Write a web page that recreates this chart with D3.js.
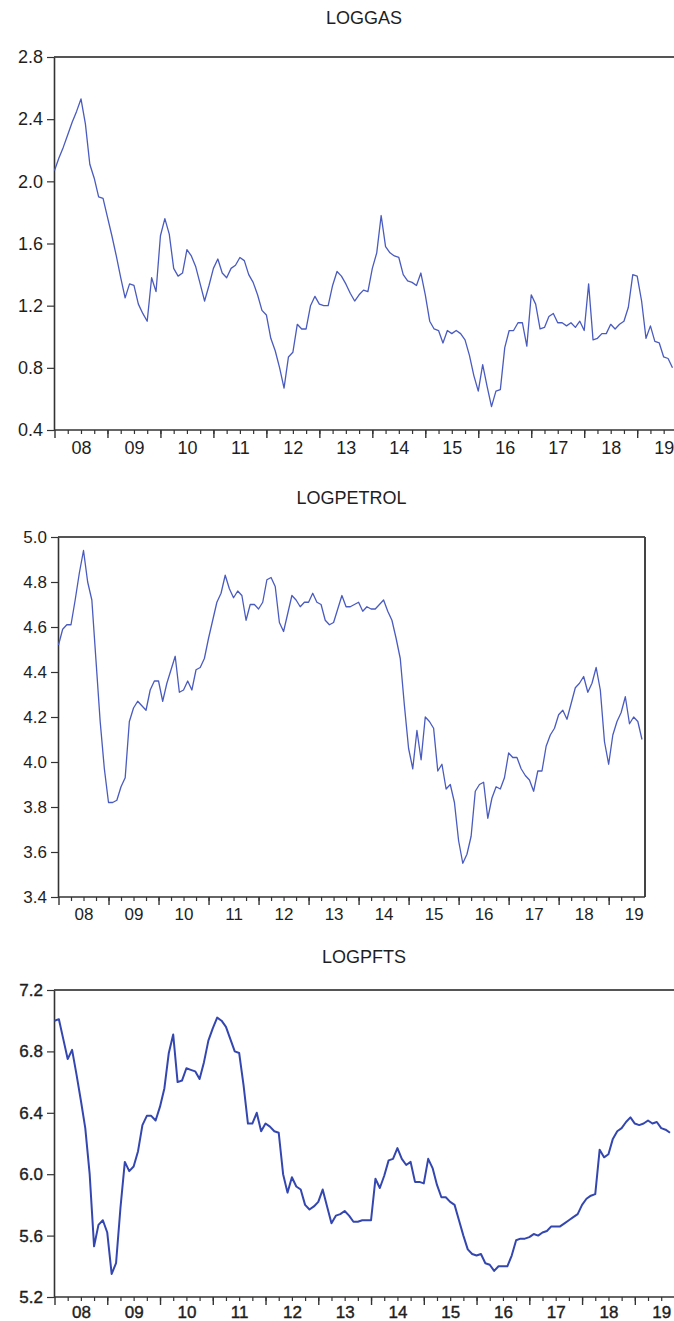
<!DOCTYPE html>
<html lang="en">
<head>
<meta charset="UTF-8">
<title>LOGGAS / LOGPETROL / LOGPFTS</title>
<script src="https://d3js.org/d3.v7.min.js"></script>
<style>
    body { margin: 0; background: #fff; }
    svg { display: block; }
    text { font-family: "Liberation Sans", Arial, sans-serif; fill: #1e1e1e; }
    .title { font-size: 18px; }
    .tick text { font-size: 17px; fill: #1e1e1e; }
</style>
</head>
<body>
<svg width="674" height="1321"></svg>

<script>
    // monthly observations, 2008M01 .. 2019M09
    const yearLabels = ["08","09","10","11","12","13","14","15","16","17","18","19"];

    const logGas = [
        2.07, 2.15, 2.22, 2.30, 2.38, 2.45, 2.53, 2.37, 2.11, 2.02, 1.90, 1.89,
        1.77, 1.65, 1.52, 1.38, 1.25, 1.34, 1.33, 1.21, 1.15, 1.10, 1.38, 1.29,
        1.65, 1.76, 1.66, 1.44, 1.39, 1.41, 1.56, 1.52, 1.45, 1.34, 1.23, 1.33,
        1.44, 1.50, 1.41, 1.38, 1.44, 1.46, 1.51, 1.49, 1.40, 1.35, 1.27, 1.17,
        1.14, 0.99, 0.91, 0.80, 0.67, 0.87, 0.90, 1.08, 1.05, 1.05, 1.20, 1.26,
        1.21, 1.20, 1.20, 1.33, 1.42, 1.39, 1.34, 1.28, 1.23, 1.27, 1.30, 1.29,
        1.44, 1.54, 1.78, 1.58, 1.54, 1.52, 1.51, 1.40, 1.36, 1.35, 1.33, 1.41,
        1.27, 1.10, 1.05, 1.04, 0.96, 1.04, 1.02, 1.04, 1.02, 0.98, 0.88, 0.75,
        0.65, 0.82, 0.68, 0.55, 0.65, 0.66, 0.93, 1.04, 1.04, 1.09, 1.09, 0.94,
        1.27, 1.21, 1.05, 1.06, 1.13, 1.15, 1.09, 1.09, 1.07, 1.09, 1.06, 1.10,
        1.04, 1.34, 0.98, 0.99, 1.02, 1.02, 1.08, 1.05, 1.08, 1.10, 1.19, 1.40,
        1.39, 1.23, 0.99, 1.07, 0.97, 0.96, 0.87, 0.86, 0.80
    ];

    const logPetrol = [
        4.52, 4.59, 4.61, 4.61, 4.72, 4.84, 4.94, 4.80, 4.72, 4.45, 4.18, 3.97,
        3.82, 3.82, 3.83, 3.89, 3.93, 4.18, 4.24, 4.27, 4.25, 4.23, 4.32, 4.36,
        4.36, 4.27, 4.35, 4.41, 4.47, 4.31, 4.32, 4.36, 4.32, 4.41, 4.42, 4.46,
        4.55, 4.63, 4.71, 4.75, 4.83, 4.77, 4.73, 4.76, 4.74, 4.63, 4.70, 4.70,
        4.68, 4.71, 4.81, 4.82, 4.78, 4.62, 4.58, 4.66, 4.74, 4.72, 4.69, 4.71,
        4.71, 4.75, 4.71, 4.70, 4.63, 4.61, 4.62, 4.68, 4.74, 4.69, 4.69, 4.70,
        4.71, 4.67, 4.69, 4.68, 4.68, 4.70, 4.72, 4.67, 4.63, 4.55, 4.46, 4.25,
        4.06, 3.97, 4.14, 4.01, 4.20, 4.18, 4.15, 3.96, 3.99, 3.88, 3.90, 3.82,
        3.65, 3.55, 3.59, 3.67, 3.87, 3.90, 3.91, 3.75, 3.84, 3.89, 3.88, 3.93,
        4.04, 4.02, 4.02, 3.97, 3.94, 3.92, 3.87, 3.96, 3.96, 4.07, 4.12, 4.15,
        4.21, 4.23, 4.19, 4.26, 4.33, 4.35, 4.38, 4.31, 4.35, 4.42, 4.32, 4.09,
        3.99, 4.12, 4.18, 4.22, 4.29, 4.17, 4.20, 4.18, 4.10
    ];

    const logPfts = [
        7.00, 7.01, 6.88, 6.75, 6.81, 6.65, 6.48, 6.30, 6.00, 5.53, 5.67, 5.70,
        5.62, 5.35, 5.42, 5.78, 6.08, 6.02, 6.05, 6.15, 6.32, 6.38, 6.38, 6.35,
        6.44, 6.56, 6.79, 6.91, 6.60, 6.61, 6.69, 6.68, 6.67, 6.62, 6.73, 6.87,
        6.95, 7.02, 7.00, 6.96, 6.88, 6.80, 6.79, 6.58, 6.33, 6.33, 6.40, 6.28,
        6.33, 6.31, 6.28, 6.27, 6.00, 5.88, 5.98, 5.92, 5.90, 5.80, 5.77, 5.79,
        5.82, 5.90, 5.79, 5.68, 5.73, 5.74, 5.76, 5.73, 5.69, 5.69, 5.70, 5.70,
        5.70, 5.97, 5.91, 5.99, 6.09, 6.10, 6.17, 6.10, 6.06, 6.08, 5.95, 5.95,
        5.94, 6.10, 6.04, 5.93, 5.85, 5.85, 5.82, 5.80, 5.70, 5.60, 5.51, 5.48,
        5.47, 5.48, 5.42, 5.41, 5.37, 5.40, 5.40, 5.40, 5.47, 5.57, 5.58, 5.58,
        5.59, 5.61, 5.60, 5.62, 5.63, 5.66, 5.66, 5.66, 5.68, 5.70, 5.72, 5.74,
        5.80, 5.84, 5.86, 5.87, 6.16, 6.11, 6.13, 6.23, 6.28, 6.30, 6.34, 6.37,
        6.33, 6.32, 6.33, 6.35, 6.33, 6.34, 6.30, 6.29, 6.27
    ];

    const gasTicks = [0.4, 0.8, 1.2, 1.6, 2.0, 2.4, 2.8];
    const petrolTicks = [3.4, 3.6, 3.8, 4.0, 4.2, 4.4, 4.6, 4.8, 5.0];
    const pftsTicks = [5.2, 5.6, 6.0, 6.4, 6.8, 7.2];

    let svg = d3.select("svg");

    function drawPanel(p)
    {
        const n = p.values.length;
        const x = d3.scaleLinear().domain([0, n - 1]).range([p.left + 0.5, p.dataRight]);
        const y = d3.scaleLinear().domain(d3.extent(p.ticks)).range([p.bottom, p.top]);

        let g = svg.append("g");

        // title
        g.append("text").attr("class", "title")
            .attr("x", (p.left + p.right) / 2).attr("y", p.titleY)
            .attr("text-anchor", "middle")
            .text(p.title);

        // frame: top (and right) border
        g.append("line")
            .attr("x1", p.left).attr("x2", p.right)
            .attr("y1", p.top).attr("y2", p.top)
            .attr("stroke", "#555").attr("stroke-width", 2);
        if (p.rightBorder) {
            g.append("line")
                .attr("x1", p.right).attr("x2", p.right)
                .attr("y1", p.top).attr("y2", p.bottom)
                .attr("stroke", "#444").attr("stroke-width", 2);
        }

        // y axis
        let ya = g.append("g")
            .attr("transform", `translate(${p.left},0)`)
            .call(d3.axisLeft(y).tickValues(p.ticks).tickSize(7).tickSizeOuter(0)
                .tickPadding(4).tickFormat(d3.format(".1f")));
        ya.select(".domain").attr("stroke", "#333").attr("stroke-width", 1.6);
        ya.selectAll(".tick line").attr("stroke", "#333").attr("stroke-width", 1.2);
        ya.selectAll(".tick text").style("font-size", p.fontSize + "px")
            .attr("stroke", "#1e1e1e").attr("stroke-width", p.textStroke);

        // x axis: quarter ticks, year ticks, year labels
        let xMinor = g.append("g")
            .attr("transform", `translate(0,${p.bottom})`)
            .call(d3.axisBottom(x).tickValues(d3.range(3, n, 3)).tickSize(4)
                .tickSizeOuter(0).tickFormat(""));
        xMinor.select(".domain").remove();
        xMinor.selectAll(".tick line").attr("stroke", "#333").attr("stroke-width", 1.2);

        let xMajor = g.append("g")
            .attr("transform", `translate(0,${p.bottom})`)
            .call(d3.axisBottom(x).tickValues(d3.range(0, n, 12)).tickSize(8)
                .tickSizeOuter(0).tickFormat(""));
        xMajor.select(".domain").remove();
        xMajor.selectAll(".tick line").attr("stroke", "#333").attr("stroke-width", 1.4);

        let xLab = g.append("g")
            .attr("transform", `translate(0,${p.bottom})`)
            .call(d3.axisBottom(x).tickValues(d3.range(6, n, 12)).tickSize(0)
                .tickPadding(p.labelPad).tickFormat((d, i) => yearLabels[i]));
        xLab.select(".domain").remove();
        xLab.selectAll(".tick text").style("font-size", p.fontSize + "px")
            .attr("stroke", "#1e1e1e").attr("stroke-width", p.textStroke);

        g.append("line")
            .attr("x1", p.left).attr("x2", p.right)
            .attr("y1", p.bottom).attr("y2", p.bottom)
            .attr("stroke", "#333").attr("stroke-width", 1.6);

        // series line
        const line = d3.line()
            .x((d, i) => x(i))
            .y(d => y(d));

        g.append("path")
            .datum(p.values)
            .attr("d", line)
            .attr("fill", "none")
            .attr("stroke", p.color)
            .attr("stroke-width", p.width)
            .attr("stroke-linejoin", "round");
    }

    drawPanel({ title: "LOGGAS", values: logGas, ticks: gasTicks,
        left: 54, right: 674, dataRight: 672.5, top: 57, bottom: 430, titleY: 24,
        rightBorder: false, color: "#4a5bbf", width: 1.3, fontSize: 18, textStroke: 0,
        labelPad: 11 });

    drawPanel({ title: "LOGPETROL", values: logPetrol, ticks: petrolTicks,
        left: 58, right: 645, dataRight: 642, top: 537, bottom: 897, titleY: 504,
        rightBorder: true, color: "#4a5bbf", width: 1.3, fontSize: 17, textStroke: 0,
        labelPad: 11 });

    drawPanel({ title: "LOGPFTS", values: logPfts, ticks: pftsTicks,
        left: 54, right: 674, dataRight: 670, top: 990, bottom: 1297, titleY: 963,
        rightBorder: false, color: "#3447b0", width: 2, fontSize: 17, textStroke: 0.4,
        labelPad: 9 });
</script>
</body>
</html>
